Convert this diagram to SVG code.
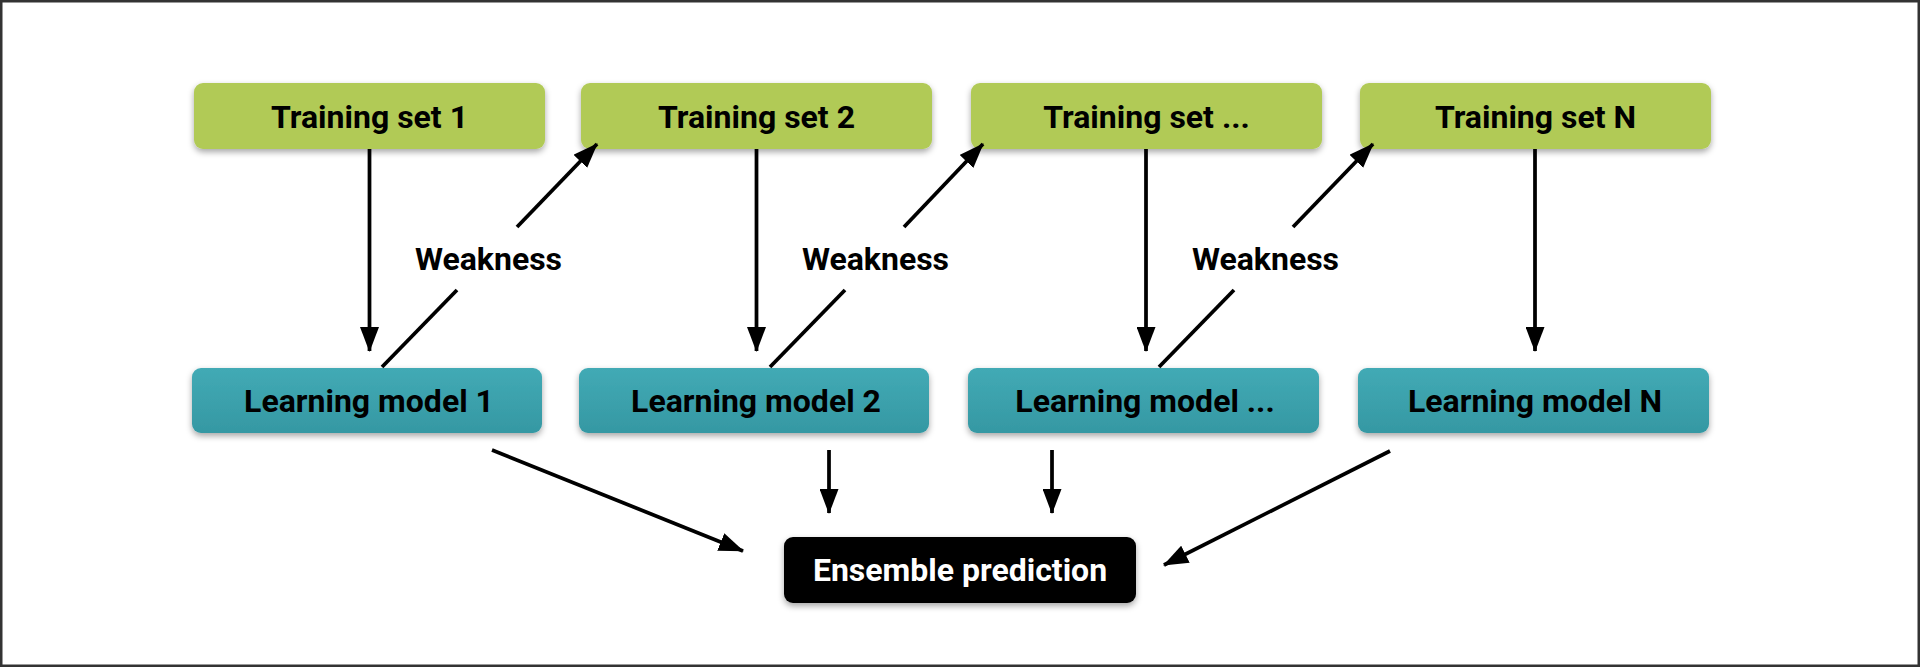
<svg xmlns="http://www.w3.org/2000/svg" width="1920" height="667" viewBox="0 0 1920 667">
  <style>
    .lbl { font-family: Roboto, "Liberation Sans", sans-serif; font-weight: 700; font-size: 32px; text-anchor: middle; fill: #000; }
    .white { fill: #fff; }
    .train { fill: #b1ca56; }
    .model { fill: url(#tealGrad); }
    .ens { fill: #000; }
    .conn { stroke: #000; stroke-width: 3.75; fill: none; }
  </style>
  <defs>
    <linearGradient id="tealGrad" x1="0" y1="0" x2="0" y2="1">
      <stop offset="0" stop-color="#42aab5"/>
      <stop offset="1" stop-color="#3598a3"/>
    </linearGradient>
    <filter id="shadow" x="-10%" y="-20%" width="120%" height="160%">
      <feDropShadow dx="0" dy="3" stdDeviation="3" flood-color="#000" flood-opacity="0.35"/>
    </filter>
    <marker id="arrow" markerUnits="userSpaceOnUse" markerWidth="25" markerHeight="19" refX="24" refY="9.5" orient="auto">
      <path d="M0,0 L25,9.5 L0,19 Z" fill="#000"/>
    </marker>
  </defs>

  <rect x="0" y="0" width="1920" height="667" fill="#fff"/>
  <rect x="1.25" y="1.25" width="1917.5" height="664.5" fill="none" stroke="#333" stroke-width="2.5"/>

  <g id="train1"><rect class="train" x="194" y="83" width="351" height="66" rx="9" filter="url(#shadow)"/><text class="lbl" x="369.5" y="127.5">Training set 1</text></g>
  <g id="train2"><rect class="train" x="581" y="83" width="351" height="66" rx="9" filter="url(#shadow)"/><text class="lbl" x="756.5" y="127.5">Training set 2</text></g>
  <g id="train3"><rect class="train" x="971" y="83" width="351" height="66" rx="9" filter="url(#shadow)"/><text class="lbl" x="1146.5" y="127.5">Training set ...</text></g>
  <g id="trainN"><rect class="train" x="1360" y="83" width="351" height="66" rx="9" filter="url(#shadow)"/><text class="lbl" x="1535.5" y="127.5">Training set N</text></g>

  <g id="model1"><rect class="model" x="192" y="368" width="350" height="65" rx="9" filter="url(#shadow)"/><text class="lbl" x="369" y="412">Learning model 1</text></g>
  <g id="model2"><rect class="model" x="579" y="368" width="350" height="65" rx="9" filter="url(#shadow)"/><text class="lbl" x="756" y="412">Learning model 2</text></g>
  <g id="model3"><rect class="model" x="968" y="368" width="351" height="65" rx="9" filter="url(#shadow)"/><text class="lbl" x="1145" y="412">Learning model ...</text></g>
  <g id="modelN"><rect class="model" x="1358" y="368" width="351" height="65" rx="9" filter="url(#shadow)"/><text class="lbl" x="1535" y="412">Learning model N</text></g>

  <g id="ensemble"><rect class="ens" x="784" y="537" width="352" height="66" rx="9" filter="url(#shadow)"/><text class="lbl white" x="960" y="580.5">Ensemble prediction</text></g>

  <g id="connectors">
    <line class="conn" x1="369.5" y1="149" x2="369.5" y2="351" marker-end="url(#arrow)"/>
    <line class="conn" x1="756.5" y1="149" x2="756.5" y2="351" marker-end="url(#arrow)"/>
    <line class="conn" x1="1146" y1="149" x2="1146" y2="351" marker-end="url(#arrow)"/>
    <line class="conn" x1="1535" y1="149" x2="1535" y2="351" marker-end="url(#arrow)"/>

    <line class="conn" x1="382" y1="367" x2="457" y2="290"/>
    <line class="conn" x1="517" y1="227" x2="597" y2="144" marker-end="url(#arrow)"/>
    <line class="conn" x1="770" y1="367" x2="845" y2="290"/>
    <line class="conn" x1="904" y1="227" x2="983" y2="144" marker-end="url(#arrow)"/>
    <line class="conn" x1="1159" y1="367" x2="1234" y2="290"/>
    <line class="conn" x1="1293" y1="227" x2="1373" y2="144" marker-end="url(#arrow)"/>

    <line class="conn" x1="492" y1="450" x2="743" y2="551" marker-end="url(#arrow)"/>
    <line class="conn" x1="829" y1="450" x2="829" y2="513" marker-end="url(#arrow)"/>
    <line class="conn" x1="1052" y1="450" x2="1052" y2="513" marker-end="url(#arrow)"/>
    <line class="conn" x1="1390" y1="451" x2="1164" y2="565" marker-end="url(#arrow)"/>
  </g>

  <g id="labels">
    <text class="lbl" x="488.5" y="270">Weakness</text>
    <text class="lbl" x="875.5" y="270">Weakness</text>
    <text class="lbl" x="1265.5" y="270">Weakness</text>
  </g>
</svg>
